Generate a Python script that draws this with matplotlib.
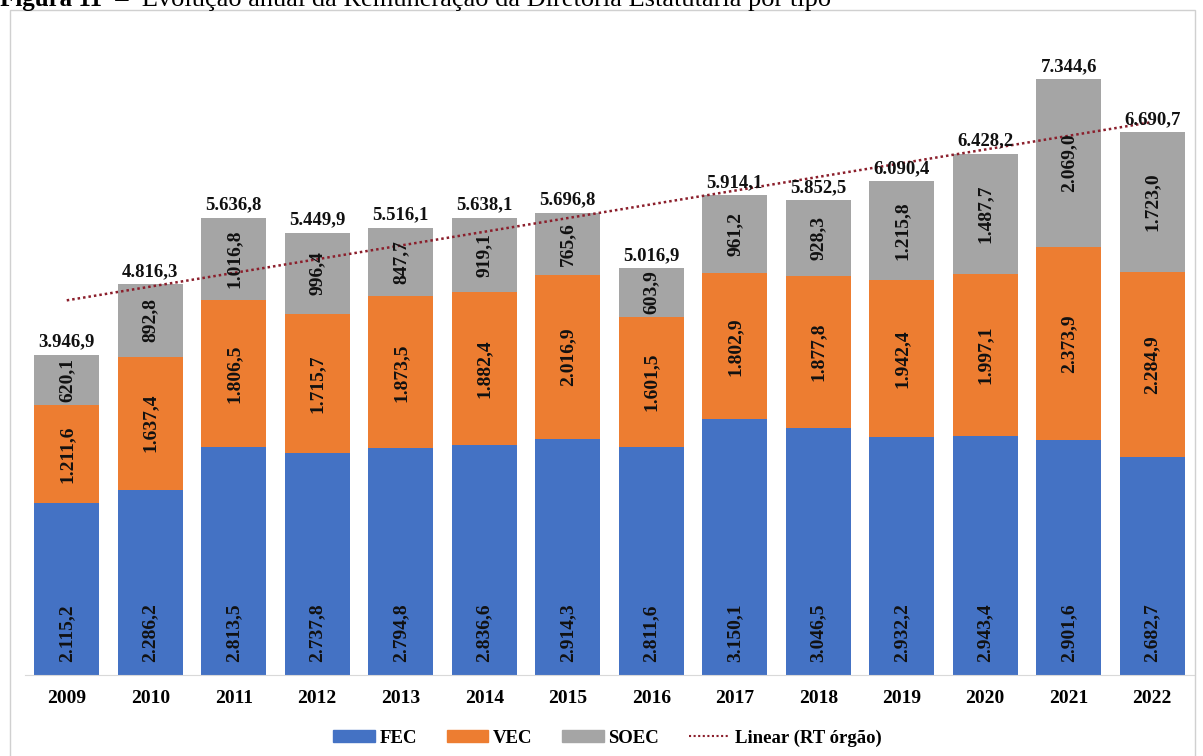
import matplotlib
matplotlib.use("Agg")
import matplotlib.pyplot as plt
import numpy as np
from matplotlib.patches import Patch, Rectangle
from matplotlib.lines import Line2D

years = ["2009", "2010", "2011", "2012", "2013", "2014", "2015", "2016",
         "2017", "2018", "2019", "2020", "2021", "2022"]
fec = [2115.2, 2286.2, 2813.5, 2737.8, 2794.8, 2836.6, 2914.3, 2811.6,
       3150.1, 3046.5, 2932.2, 2943.4, 2901.6, 2682.7]
vec = [1211.6, 1637.4, 1806.5, 1715.7, 1873.5, 1882.4, 2016.9, 1601.5,
       1802.9, 1877.8, 1942.4, 1997.1, 2373.9, 2284.9]
soec = [620.1, 892.8, 1016.8, 996.4, 847.7, 919.1, 765.6, 603.9,
        961.2, 928.3, 1215.8, 1487.7, 2069.0, 1723.0]
totals = [3946.9, 4816.3, 5636.8, 5449.9, 5516.1, 5638.1, 5696.8, 5016.9,
          5914.1, 5852.5, 6090.4, 6428.2, 7344.6, 6690.7]

C_FEC = "#4472C4"
C_VEC = "#ED7D31"
C_SOEC = "#A5A5A5"
C_TREND = "#8B1E2B"
SERIF = "Liberation Serif"


def fmt(v):
    s = f"{v:,.1f}"
    return s.replace(",", "X").replace(".", ",").replace("X", ".")


fig = plt.figure(figsize=(12.03, 7.56), dpi=100)
W, H = 1203, 756

# outer chart frame
fig.patches.append(Rectangle((10 / W, -0.01), 1185 / W, 1.01 - 10 / H,
                             transform=fig.transFigure, fill=False,
                             edgecolor="#D0D0D0", linewidth=1.0))

# title (its upper part is cut at the top edge, as in the reference)
t1 = fig.text(0.0, 1 - 6 / H, "Figura 11", fontsize=18, fontweight="bold",
              family=SERIF, va="baseline", ha="left")
fig.canvas.draw()
bb = t1.get_window_extent(renderer=fig.canvas.get_renderer())
fig.text(bb.x1 / W, 1 - 6 / H,
         "  –  Evolução anual da Remuneração da Diretoria Estatutária por tipo",
         fontsize=19, family=SERIF, va="baseline", ha="left")

ax = fig.add_axes([25 / W, 81 / H, 1169 / W, 649 / H])
x = np.arange(len(years))
width = 0.78

fec_a = np.array(fec)
vec_a = np.array(vec)
soec_a = np.array(soec)

ax.bar(x, fec_a, width, color=C_FEC, label="FEC", zorder=2)
ax.bar(x, vec_a, width, bottom=fec_a, color=C_VEC, label="VEC", zorder=2)
ax.bar(x, soec_a, width, bottom=fec_a + vec_a, color=C_SOEC, label="SOEC", zorder=2)

lab_kw = dict(rotation=90, fontsize=14, fontweight="bold", family=SERIF,
              ha="center", color="#111111", zorder=4)
for i in range(len(years)):
    ax.annotate(fmt(fec[i]), (x[i], 0), xytext=(0, 9), textcoords="offset points",
                va="bottom", **lab_kw)
    ax.text(x[i], fec[i] + vec[i] / 2, fmt(vec[i]), va="center", **lab_kw)
    ax.text(x[i], fec[i] + vec[i] + soec[i] / 2, fmt(soec[i]), va="center", **lab_kw)
    ax.annotate(fmt(totals[i]), (x[i], totals[i]), xytext=(0, 3),
                textcoords="offset points", ha="center", va="bottom",
                fontsize=13.5, fontweight="bold", family=SERIF, color="#111111",
                zorder=5)

# linear trend of totals
coef = np.polyfit(x, np.array(totals), 1)
xt = np.array([x[0], x[-1]])
ax.plot(xt, np.polyval(coef, xt), linestyle=(0, (1, 1.2)), color=C_TREND,
        linewidth=1.8, zorder=3, label="Linear (RT órgão)")

ax.set_xlim(-0.5, len(years) - 0.5)
ax.set_ylim(0, 8000)
ax.set_yticks([])
ax.set_xticks(x)
ax.set_xticklabels(years, fontsize=14, fontweight="bold", family=SERIF)
ax.tick_params(axis="x", length=0, pad=11)
for s in ["top", "right", "left"]:
    ax.spines[s].set_visible(False)
ax.spines["bottom"].set_color("#D9D9D9")

handles = [Patch(color=C_FEC), Patch(color=C_VEC), Patch(color=C_SOEC),
           Line2D([0], [0], color=C_TREND, linestyle=(0, (1, 1.2)), linewidth=1.5)]
labels = ["FEC", "VEC", "SOEC", "Linear (RT órgão)"]
fig.legend(handles, labels, loc="center", bbox_to_anchor=(0.505, 1 - 738 / H),
           ncol=4, frameon=False, handlelength=2.2, handleheight=0.6,
           handletextpad=0.25, columnspacing=1.6,
           prop={"family": SERIF, "weight": "bold", "size": 13.5})

fig.savefig("out.png", dpi=100)
